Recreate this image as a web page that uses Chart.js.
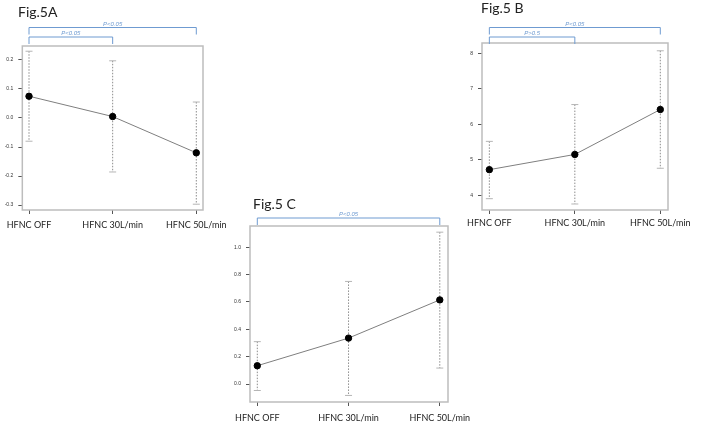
<!DOCTYPE html>
<html>
<head>
<meta charset="utf-8">
<script src="https://cdn.jsdelivr.net/npm/chart.js@4.4.0/dist/chart.umd.min.js"></script>
<style>
  body { margin: 0; background: #fff; }
  #wrap { position: relative; width: 708px; height: 424px; background: #fff; }
  #wrap canvas { position: absolute; left: 0; top: 0; }
</style>
</head>
<body>
<div id="wrap">
  <canvas id="figA" width="708" height="424"></canvas>
  <canvas id="figB" width="708" height="424"></canvas>
  <canvas id="figC" width="708" height="424"></canvas>
</div>
<script>
// data
const categories = ["HFNC OFF", "HFNC 30L/min", "HFNC 50L/min"];

const meanA  = [0.075, 0.005, -0.12];
const upperA = [0.23, 0.197, 0.055];
const lowerA = [-0.08, -0.186, -0.297];
const yTicksA = [-0.3, -0.2, -0.1, 0.0, 0.1, 0.2];

const meanB  = [4.72, 5.15, 6.42];
const upperB = [5.52, 6.56, 8.08];
const lowerB = [3.9, 3.75, 4.76];
const yTicksB = [4, 5, 6, 7, 8];

const meanC  = [0.134, 0.336, 0.615];
const upperC = [0.31, 0.75, 1.11];
const lowerC = [-0.047, -0.083, 0.117];
const yTicksC = [0.0, 0.2, 0.4, 0.6, 0.8, 1.0];

const pairsA = [{ from: 0, to: 2, label: "P<0.05" }, { from: 0, to: 1, label: "P<0.05" }];
const pairsB = [{ from: 0, to: 2, label: "P<0.05" }, { from: 0, to: 1, label: "P>0.5" }];
const pairsC = [{ from: 0, to: 2, label: "P<0.05" }];

const BLUE = "#6f9bd1";

// grey frame round the plot area, like R's box()
const boxPlugin = {
  id: "boxFrame",
  beforeDatasetsDraw(chart) {
    const a = chart.chartArea, ctx = chart.ctx;
    ctx.save();
    ctx.strokeStyle = "#bdbdbd";
    ctx.lineWidth = 1.5;
    ctx.strokeRect(a.left, a.top, a.right - a.left, a.bottom - a.top);
    ctx.restore();
  }
};

// significance brackets + figure title
const extrasPlugin = {
  id: "extras",
  afterDraw(chart, args, opts) {
    const ctx = chart.ctx, xs = chart.scales.x;
    ctx.save();
    (opts.brackets || []).forEach((b, i) => {
      const y = opts.levels[i];
      const x1 = xs.getPixelForValue(b.from), x2 = xs.getPixelForValue(b.to);
      ctx.strokeStyle = BLUE;
      ctx.lineWidth = 1;
      ctx.beginPath();
      ctx.moveTo(x1, y + opts.drop);
      ctx.lineTo(x1, y);
      ctx.lineTo(x2, y);
      ctx.lineTo(x2, y + opts.drop);
      ctx.stroke();
      ctx.fillStyle = BLUE;
      ctx.font = "italic 6px 'Liberation Sans'";
      ctx.textAlign = "center";
      ctx.textBaseline = "bottom";
      ctx.fillText(b.label, (x1 + x2) / 2, y - 0.5);
    });
    ctx.fillStyle = "#222";
    ctx.font = "14px Lato";
    ctx.textAlign = "left";
    ctx.textBaseline = "alphabetic";
    ctx.fillText(opts.title, opts.titleX, opts.titleY);
    ctx.restore();
  }
};

function makeFig(id, mean, upper, lower, yTicks, yFmt, cfg) {
  const datasets = [{
    data: mean.map((v, i) => ({ x: i, y: v })),
    borderColor: "#7f7f7f",
    borderWidth: 1,
    pointBackgroundColor: "#000",
    pointBorderColor: "#000",
    pointRadius: 3.2,
    order: 0
  }];
  categories.forEach((c, i) => {
    datasets.push({
      data: [{ x: i, y: upper[i] }, { x: i, y: lower[i] }],
      borderColor: "#8c8c8c",
      borderWidth: 1,
      borderDash: [1.5, 1.5],
      pointStyle: "line",
      pointRadius: 3.5,
      pointBorderColor: "#b5b5b5",
      pointBorderWidth: 1,
      order: 1
    });
  });

  const b = cfg.box;
  return new Chart(document.getElementById(id), {
    type: "line",
    data: { datasets },
    plugins: [boxPlugin, extrasPlugin],
    options: {
      responsive: false,
      animation: false,
      events: [],
      layout: {
        padding: { left: b.left - 20, top: b.top, right: 708 - b.right, bottom: 424 - b.bottom - 30 }
      },
      plugins: {
        legend: { display: false },
        tooltip: { enabled: false },
        extras: cfg.extras
      },
      scales: {
        x: {
          type: "linear",
          min: cfg.xMin, max: cfg.xMax,
          afterBuildTicks: s => { s.ticks = categories.map((c, i) => ({ value: i })); },
          afterFit: s => { s.height = 30; },
          border: { display: false },
          grid: { drawOnChartArea: false, drawTicks: true, tickLength: 4, color: "#555" },
          ticks: {
            padding: cfg.xPad,
            maxRotation: 0,
            autoSkip: false,
            color: "#222",
            font: { family: "Lato", size: 9 },
            callback: v => categories[v]
          }
        },
        y: {
          min: cfg.yMin, max: cfg.yMax,
          afterBuildTicks: s => { s.ticks = yTicks.map(v => ({ value: v })); },
          afterFit: s => { s.width = 20; },
          border: { display: false },
          grid: { drawOnChartArea: false, drawTicks: true, tickLength: 4, color: "#555" },
          ticks: {
            padding: 5,
            color: "#333",
            font: { family: "Liberation Sans", size: 5 },
            callback: yFmt
          }
        }
      }
    }
  });
}

makeFig("figA", meanA, upperA, lowerA, yTicksA, v => v.toFixed(1), {
  box: { left: 20, top: 46, right: 203, bottom: 210 },
  xMin: -0.08, xMax: 2.08, yMin: -0.317, yMax: 0.248, xPad: 6,
  extras: { brackets: pairsA, levels: [27.5, 37], drop: 7, title: "Fig.5A", titleX: 18, titleY: 17 }
});

makeFig("figB", meanB, upperB, lowerB, yTicksB, v => v.toFixed(0), {
  box: { left: 482, top: 43, right: 668, bottom: 210 },
  xMin: -0.086, xMax: 2.09, yMin: 3.58, yMax: 8.3, xPad: 4,
  extras: { brackets: pairsB, levels: [27.5, 37], drop: 7, title: "Fig.5 B", titleX: 481, titleY: 13 }
});

makeFig("figC", meanC, upperC, lowerC, yTicksC, v => v.toFixed(1), {
  box: { left: 250, top: 226, right: 448, bottom: 402 },
  xMin: -0.08, xMax: 2.09, yMin: -0.131, yMax: 1.155, xPad: 7,
  extras: { brackets: pairsC, levels: [218], drop: 7, title: "Fig.5 C", titleX: 253, titleY: 209 }
});
</script>
</body>
</html>
